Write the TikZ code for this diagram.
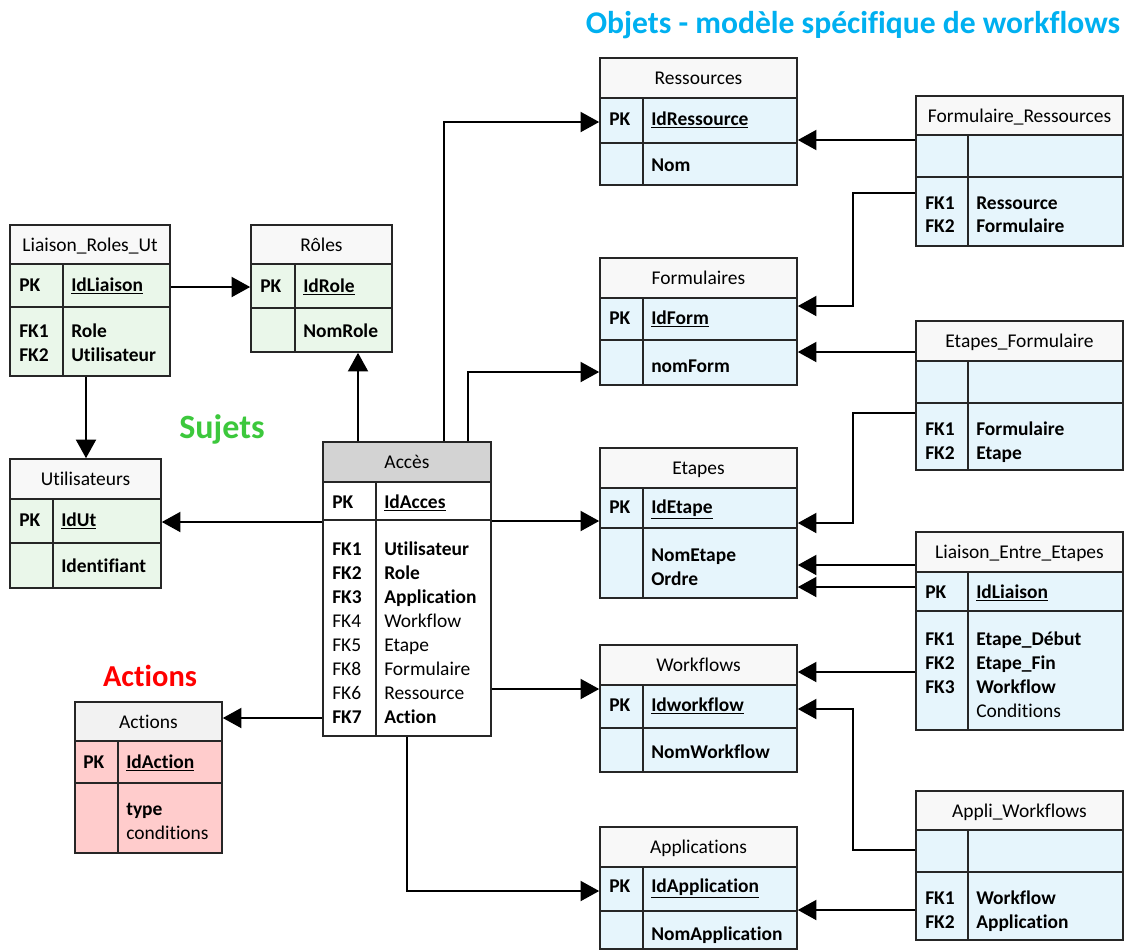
\documentclass[tikz,border=0pt]{standalone}
\usepackage{fontspec}
\setmainfont{Carlito}[Ligatures={NoCommon}]
\usetikzlibrary{arrows.meta,fit,calc}
\definecolor{grn}{HTML}{EAF7EA}
\definecolor{blu}{HTML}{E6F5FC}
\definecolor{pnk}{HTML}{FFCCCC}
\definecolor{hdl}{HTML}{F8F8F8}
\definecolor{hda}{HTML}{D3D3D3}
\definecolor{hdp}{HTML}{F2F2F2}
\definecolor{ttlblue}{HTML}{00B0F0}
\definecolor{sujgreen}{HTML}{3CC83C}
\definecolor{actred}{HTML}{FF0000}
\colorlet{hdc}{hdl}
\colorlet{bdc}{grn}
\newcommand\fsz{\fontsize{14.6}{17}\selectfont}
\tikzset{
  tab/.style={line width=1.2pt, draw=black!85},
  ttl/.style={font=\fsz, inner sep=0pt, anchor=base},
  kt/.style={font=\fsz\bfseries, anchor=base west, inner sep=0pt},
  arr/.style={line width=1.6pt, -{Triangle[length=14pt,width=15pt]}},
  bigtxt/.style={font=\bfseries, inner sep=0pt, anchor=base},
}
% name, x1, y1, x2, y2, y header bottom, y pk bottom, x divider, title
\newcommand\tbl[9]{%
  \fill[hdc] (#2,#3) rectangle (#4,#6);
  \fill[bdc] (#2,#6) rectangle (#4,#5);
  \draw[tab] (#2,#6) -- (#4,#6) (#2,#7) -- (#4,#7) (#8,#6) -- (#8,#5);
  \node[tab, draw, fit={(#2,#3)(#4,#5)}, inner sep=0pt] (#1) {};
  \node[ttl] (#1-t) at ({(#2+#4)/2},{(#3+#6)/2+6.5}) {#9};
}
% name, x key, x attr, y center, key, attr
\newcommand\fld[6]{%
  \node[kt] (#1k) at (#2,{#4+6.5}) {#5};
  \node[kt] (#1a) at (#3,{#4+6.5}) {#6};
}
\begin{document}
\begin{tikzpicture}[x=0.75pt,y=-0.75pt]
\useasboundingbox (0,0) rectangle (1129,951);
\fill[white] (0,0) rectangle (1129,951);

% ---------- titles ----------
\node[bigtxt, text=ttlblue, font=\fontsize{23.7}{28}\selectfont\bfseries] (titre) at (853,33) {Objets - modèle spécifique de workflows};
\node[bigtxt, text=sujgreen, font=\fontsize{25.5}{30}\selectfont\bfseries] (sujets) at (222,438) {Sujets};
\node[bigtxt, text=actred, font=\fontsize{22.8}{28}\selectfont\bfseries] (actlbl) at (150,686) {Actions};

% ---------- green tables ----------
\colorlet{hdc}{hdl}\colorlet{bdc}{grn}
\tbl{lru}{10}{225}{170}{376}{264}{307}{63}{Liaison\_Roles\_Ut}
\fld{lru1}{19}{71}{285}{PK}{\underline{IdLiaison}}
\fld{lru2}{19}{71}{331}{FK1}{Role}
\fld{lru3}{19}{71}{355}{FK2}{Utilisateur}

\tbl{rol}{251}{225}{392}{352}{264}{308}{295}{Rôles}
\fld{rol1}{260}{303}{286}{PK}{\underline{IdRole}}
\fld{rol2}{260}{303}{331}{}{NomRole}

\tbl{util}{10}{459}{161}{588}{499}{543}{53}{Utilisateurs}
\fld{util1}{19}{61}{520}{PK}{\underline{IdUt}}
\fld{util2}{19}{61}{566}{}{Identifiant}

% ---------- Acces ----------
\colorlet{hdc}{hda}\colorlet{bdc}{white}
\tbl{acces}{323}{442}{491}{736}{482}{520}{376}{Accès}
\fld{acc1}{332}{384}{502}{PK}{\underline{IdAcces}}
\fld{acc2}{332}{384}{549}{FK1}{Utilisateur}
\fld{acc3}{332}{384}{573}{FK2}{Role}
\fld{acc4}{332}{384}{597}{FK3}{Application}
\fld{acc5}{332}{384}{621}{\mdseries FK4}{\mdseries Workflow}
\fld{acc6}{332}{384}{645}{\mdseries FK5}{\mdseries Etape}
\fld{acc7}{332}{384}{669}{\mdseries FK8}{\mdseries Formulaire}
\fld{acc8}{332}{384}{693}{\mdseries FK6}{\mdseries Ressource}
\fld{acc9}{332}{384}{717}{FK7}{Action}

% ---------- Actions ----------
\colorlet{hdc}{hdp}\colorlet{bdc}{pnk}
\tbl{act}{75}{702}{222}{853}{741}{783}{118}{Actions}
\fld{act1}{83}{126}{762}{PK}{\underline{IdAction}}
\fld{act2}{83}{126}{809}{}{type}
\fld{act3}{83}{126}{833}{}{\mdseries conditions}

% ---------- blue tables ----------
\colorlet{hdc}{hdl}\colorlet{bdc}{blu}
\tbl{res}{600}{58}{797}{185}{98}{143}{643}{Ressources}
\fld{res1}{609}{651}{119}{PK}{\underline{IdRessource}}
\fld{res2}{609}{651}{165}{}{Nom}

\tbl{fres}{916}{96}{1123}{246}{135}{177}{968}{Formulaire\_Ressources}
\fld{fres1}{925}{976}{203}{FK1}{Ressource}
\fld{fres2}{925}{976}{226}{FK2}{Formulaire}

\tbl{form}{600}{258}{797}{385}{298}{340}{643}{Formulaires}
\fld{form1}{609}{651}{318}{PK}{\underline{IdForm}}
\fld{form2}{609}{651}{366}{}{nomForm}

\tbl{efor}{916}{321}{1123}{470}{361}{403}{968}{Etapes\_Formulaire}
\fld{efor1}{925}{976}{429}{FK1}{Formulaire}
\fld{efor2}{925}{976}{453}{FK2}{Etape}

\tbl{etp}{600}{448}{797}{598}{488}{528}{643}{Etapes}
\fld{etp1}{609}{651}{507}{PK}{\underline{IdEtape}}
\fld{etp2}{609}{651}{555}{}{NomEtape}
\fld{etp3}{609}{651}{579}{}{Ordre}

\tbl{lee}{916}{532}{1123}{730}{572}{611}{968}{Liaison\_Entre\_Etapes}
\fld{lee1}{925}{976}{592}{PK}{\underline{IdLiaison}}
\fld{lee2}{925}{976}{639}{FK1}{Etape\_Début}
\fld{lee3}{925}{976}{663}{FK2}{Etape\_Fin}
\fld{lee4}{925}{976}{687}{FK3}{Workflow}
\fld{lee5}{925}{976}{711}{}{\mdseries Conditions}

\tbl{wf}{600}{645}{797}{772}{685}{728}{643}{Workflows}
\fld{wf1}{609}{651}{705}{PK}{\underline{Idworkflow}}
\fld{wf2}{609}{651}{752}{}{NomWorkflow}

\tbl{aw}{916}{791}{1123}{940}{830}{872}{968}{Appli\_Workflows}
\fld{aw1}{925}{976}{898}{FK1}{Workflow}
\fld{aw2}{925}{976}{922}{FK2}{Application}

\tbl{app}{600}{827}{797}{949}{867}{911}{643}{Applications}
\fld{app1}{609}{651}{886}{PK}{\underline{IdApplication}}
\fld{app2}{609}{651}{934}{}{NomApplication}

% ---------- connectors ----------
\draw[arr] (lru.east |- 0,287) -- (rol.west |- 0,287);
\draw[arr] (lru.south -| 86,0) -- (util.north -| 86,0);
\draw[arr] (acces.north -| 358,0) -- (rol.south -| 358,0);
\draw[arr] (acces.west |- 0,522) -- (util.east |- 0,522);
\draw[arr] (acces.west |- 0,718) -- (act.east |- 0,718);
\draw[arr] (acces.north -| 444,0) |- (res.west |- 0,122);
\draw[arr] (acces.north -| 468,0) |- (form.west |- 0,372);
\draw[arr] (acces.east |- 0,521) -- (etp.west |- 0,521);
\draw[arr] (acces.east |- 0,689) -- (wf.west |- 0,689);
\draw[arr] (acces.south -| 407,0) |- (app.west |- 0,891);
\draw[arr] (fres.west |- 0,140) -- (res.east |- 0,140);
\draw[arr] (fres.west |- 0,193) -| (853,306) -- (form.east |- 0,306);
\draw[arr] (efor.west |- 0,352) -- (form.east |- 0,352);
\draw[arr] (efor.west |- 0,413) -| (853,523) -- (etp.east |- 0,523);
\draw[arr] (lee.west |- 0,565) -- (etp.east |- 0,565);
\draw[arr] (lee.west |- 0,587) -- (etp.east |- 0,587);
\draw[arr] (lee.west |- 0,672) -- (wf.east |- 0,672);
\draw[arr] (aw.west |- 0,850) -| (853,709) -- (wf.east |- 0,709);
\draw[arr] (aw.west |- 0,910) -- (app.east |- 0,910);
\end{tikzpicture}
\end{document}
